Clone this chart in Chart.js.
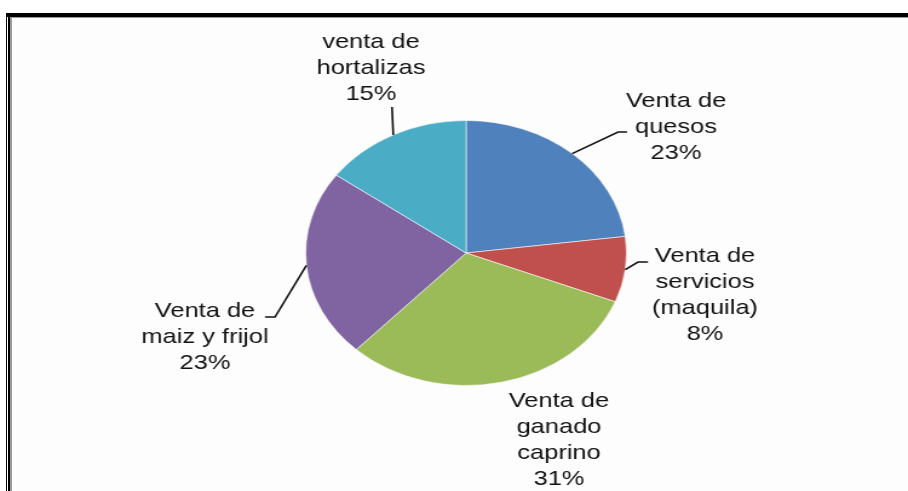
<!DOCTYPE html>
<html>
<head>
<meta charset="utf-8">
<script src="https://cdn.jsdelivr.net/npm/chart.js@4"></script>
<style>
  html, body { margin: 0; padding: 0; background: #ffffff; }
  body { width: 908px; height: 491px; position: relative; overflow: hidden; }
  .panel { position: absolute; left: 6px; top: 13px; width: 902px; height: 478px; background: #fdfdfd; }
  .bar { position: absolute; }
  #wrap { position: absolute; left: 0; top: 0; width: 750px; height: 491px; transform-origin: 0 0; }
</style>
</head>
<body>
<div class="panel"></div>
<!-- frame: heavy top rule, double left rule, grey inner shadow -->
<div class="bar" style="left:6px;top:13px;width:902px;height:4px;background:#000"></div>
<div class="bar" style="left:10px;top:17px;width:898px;height:1px;background:#9a9a9a"></div>
<div class="bar" style="left:6px;top:13px;width:1px;height:478px;background:#000"></div>
<div class="bar" style="left:8px;top:13px;width:2px;height:478px;background:#000"></div>
<div class="bar" style="left:10px;top:17px;width:2px;height:474px;background:#9a9a9a"></div>

<div id="wrap"><canvas id="pieChart"></canvas></div>

<script>
const categories = [
  "Venta de quesos",
  "Venta de servicios (maquila)",
  "Venta de ganado caprino",
  "Venta de maiz y frijol",
  "venta de hortalizas",
];
const labelLines = [
  ["Venta de", "quesos"],
  ["Venta de", "servicios", "(maquila)"],
  ["Venta de", "ganado", "caprino"],
  ["Venta de", "maiz y frijol"],
  ["venta de", "hortalizas"],
];
const values = [23, 8, 31, 23, 15];
const colors = ["#4f81bd", "#c0504d", "#9bbb59", "#8064a2", "#4bacc6"];

// the original picture is stretched sideways, so the whole chart is drawn
// narrow and scaled back out with css
const SX = 908 / 750;
const LINE_H = 26;

// label anchors in page pixels: text centre x, first baseline y, leader bends
const labelLayout = [
  { x: 676, y: 107, leader: [[618, 132], [627, 132]] },
  { x: 705, y: 262, leader: [[638, 262], [648, 262]] },
  { x: 559, y: 407, leader: null },
  { x: 205, y: 317, leader: [[275, 317], [265, 317]] },
  { x: 371, y: 48, leader: [[392, 107]] },
];

document.getElementById("wrap").style.transform = `scaleX(${SX})`;

const total = values.reduce((a, b) => a + b, 0);

const sliceLabels = {
  id: "sliceLabels",
  afterDatasetsDraw(chart) {
    const ctx = chart.ctx;
    const meta = chart.getDatasetMeta(0);
    ctx.save();
    ctx.strokeStyle = "#111";
    ctx.lineWidth = 1.6;
    ctx.fillStyle = "#111";
    ctx.font = '21px "Liberation Sans", Arial, sans-serif';
    ctx.textAlign = "center";
    ctx.textBaseline = "alphabetic";
    meta.data.forEach((arc, i) => {
      const lay = labelLayout[i];
      const mid = (arc.startAngle + arc.endAngle) / 2;
      const ex = arc.x + Math.cos(mid) * arc.outerRadius;
      const ey = arc.y + Math.sin(mid) * arc.outerRadius;
      if (lay.leader) {
        ctx.beginPath();
        ctx.moveTo(ex, ey);
        lay.leader.forEach((p) => ctx.lineTo(p[0] / SX, p[1]));
        ctx.stroke();
      }
      const pct = Math.round((values[i] / total) * 100) + "%";
      const lines = [...labelLines[i], pct];
      lines.forEach((t, k) => ctx.fillText(t, lay.x / SX, lay.y + k * LINE_H));
    });
    ctx.restore();
  },
};

const ctx = document.getElementById("pieChart").getContext("2d");

new Chart(ctx, {
  type: "pie",
  data: {
    labels: categories,
    datasets: [
      {
        data: values,
        backgroundColor: colors,
        borderColor: "rgba(255,255,255,0.55)",
        borderWidth: 1,
      },
    ],
  },
  options: {
    responsive: true,
    maintainAspectRatio: false,
    animation: false,
    layout: {
      padding: { left: 252, right: 232, top: 120, bottom: 105 },
    },
    plugins: {
      legend: { display: false },
      tooltip: { enabled: false },
    },
  },
  plugins: [sliceLabels],
});
</script>
</body>
</html>
